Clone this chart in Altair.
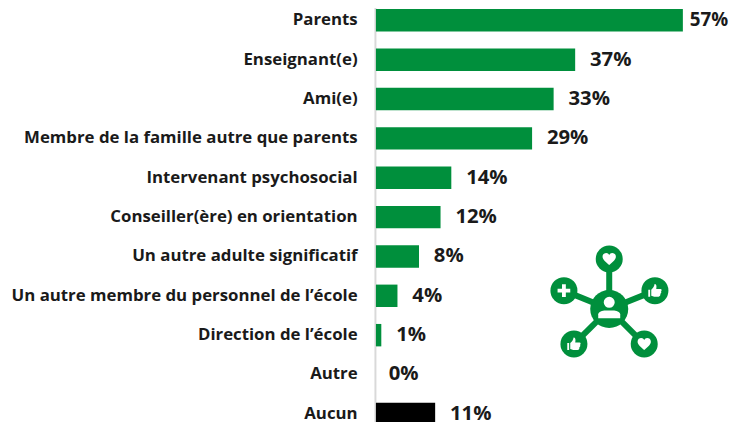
import altair as alt
import pandas as pd

categories = ["Parents", "Enseignant(e)", "Ami(e)", "Membre de la famille autre que parents",
              "Intervenant psychosocial", "Conseiller(ère) en orientation", "Un autre adulte significatif",
              "Un autre membre du personnel de l’école", "Direction de l’école", "Autre", "Aucun"]
values = [57, 37, 33, 29, 14, 12, 8, 4, 1, 0, 11]
groups = ["o"] * 10 + ["n"]

GREEN = "#008f3c"
K = 722 / 730            # the page fits the 730 px svg into 722 px
OX, OY = 376, 8          # page position of the plot origin
PAD = round((OX - 8) / K)
W = 730 - PAD
H = round(424 / K)
FONT = "Open Sans"

df = pd.DataFrame({"cat": categories, "val": values, "grp": groups})
df["lab"] = df["val"].astype(str) + "%"

yscale = alt.Scale(domain=categories, range=[-9.7 / K, 423.2 / K], paddingInner=0.43, paddingOuter=0.215)
xscale = alt.Scale(domain=[0, W / (5.385 / K)], nice=False)

bars = alt.Chart(df).mark_bar().encode(
    x=alt.X("val:Q", scale=xscale, axis=None),
    y=alt.Y("cat:N", scale=yscale, sort=categories, title=None,
            axis=alt.Axis(ticks=False, domainColor="#d9d9d9", domainWidth=2, offset=1, labelPadding=18,
                          labelFont=FONT, labelFontWeight="bold", labelFontSize=17, labelColor="#1a1a1a",
                          labelLimit=400, grid=False)),
    color=alt.Color("grp:N", scale=alt.Scale(domain=["o", "n"], range=[GREEN, "#000000"]), legend=None),
)

def val_text(data, dx, fs=20.5):
    return alt.Chart(data).mark_text(align="left", baseline="middle", dx=dx, font=FONT, fontWeight="bold",
                                     fontSize=fs, color="#1a1a1a").encode(
        x=alt.X("val:Q", scale=xscale), y=alt.Y("cat:N", scale=yscale, sort=categories), text="lab:N")

t1 = val_text(df[df.val >= 1].iloc[1:], 15)
t2 = val_text(df.iloc[[0]], 7, 19)
t3 = val_text(df[df.val == 0], 13)

# ---- decorative network icon, pixel placed ----
CENTER = (609.3, 306.7)
NODES = [(609.3, 256.7), (564, 288.3), (655, 288.3), (574, 341.7), (644.3, 341.7)]

def px(p):
    return (p[0] - OX) / K, (p[1] - OY) / K

one = pd.DataFrame({"a": [0]})
icon = []
for n in NODES:
    icon.append(alt.Chart(one).mark_rule(color=GREEN, strokeWidth=6 / K).encode(
        x=alt.value(px(CENTER)[0]), x2=alt.value(px(n)[0]), y=alt.value(px(CENTER)[1]), y2=alt.value(px(n)[1])))

def dot(p, r, color="white"):
    return alt.Chart(one).mark_circle(color=color, opacity=1, size=(2 * r / K) ** 2).encode(
        x=alt.value(px(p)[0]), y=alt.value(px(p)[1]))

def glyph(p, path, s, color="white"):
    return alt.Chart(one).mark_point(shape=path, filled=True, color=color, opacity=1, size=(s / K) ** 2, strokeWidth=0).encode(
        x=alt.value(px(p)[0]), y=alt.value(px(p)[1]))

HEART = "M0,0.9 C-0.35,0.55 -1,0.15 -1,-0.35 C-1,-0.75 -0.7,-0.9 -0.45,-0.9 C-0.25,-0.9 -0.08,-0.78 0,-0.6 C0.08,-0.78 0.25,-0.9 0.45,-0.9 C0.7,-0.9 1,-0.75 1,-0.35 C1,0.15 0.35,0.55 0,0.9 Z"
PLUS = "M-0.3,-1 L0.3,-1 L0.3,-0.3 L1,-0.3 L1,0.3 L0.3,0.3 L0.3,1 L-0.3,1 L-0.3,0.3 L-1,0.3 L-1,-0.3 L-0.3,-0.3 Z"
THUMB = ("M-1,-0.15 L-0.72,-0.15 L-0.72,0.9 L-1,0.9 Z "
         "M-0.55,-0.15 C-0.3,-0.35 -0.1,-0.6 -0.05,-1 C0.2,-1 0.3,-0.75 0.2,-0.25 L0.85,-0.25 C1.05,-0.25 1.05,0.05 0.92,0.1 "
         "C1,0.25 0.95,0.42 0.82,0.47 C0.85,0.65 0.75,0.9 0.55,0.9 L-0.1,0.9 L-0.55,0.75 Z")
SHOULDERS = "M-1,0.36 L-1,0 C-1,-0.25 -0.6,-0.36 -0.35,-0.36 L0.35,-0.36 C0.6,-0.36 1,-0.25 1,0 L1,0.36 Z"

icon.append(dot(CENTER, 19, GREEN))
for n in NODES:
    icon.append(dot(n, 13.5, GREEN))
icon.append(dot((609.3, 300), 5.5))
icon.append(glyph((609.3, 312), SHOULDERS, 22))
icon.append(glyph(NODES[0], HEART, 13.3))
icon.append(glyph(NODES[4], HEART, 13.3))
icon.append(glyph(NODES[1], PLUS, 12.7))
icon.append(glyph(NODES[2], THUMB, 13.3))
icon.append(glyph(NODES[3], THUMB, 13.3))

chart = alt.layer(bars, t1, t2, t3, *icon).properties(
    width=W, height=H,
    autosize=alt.AutoSizeParams(type="none"),
    padding={"left": PAD, "top": 0, "right": 0, "bottom": 0},
).configure_view(stroke=None)

chart.save("out.html", embed_options={"renderer": "svg", "actions": False})
